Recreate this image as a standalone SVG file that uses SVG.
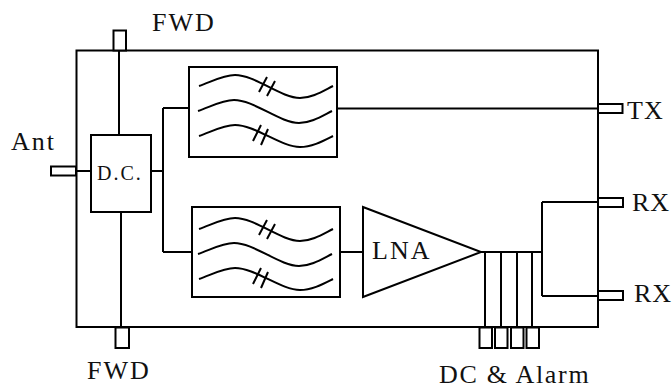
<svg xmlns="http://www.w3.org/2000/svg" width="672" height="385" viewBox="0 0 672 385">
<style>
.s{fill:none;stroke:#000;stroke-width:2}
.b{fill:#fff;stroke:#000;stroke-width:2}
.t{font-family:"Liberation Serif","Times New Roman",serif;font-size:26px;fill:#111;letter-spacing:2px}
</style>
<defs>
<g id="waves" class="s" stroke-width="2">
<path d="M10 19C22 15 34 8 46 8C66 8 92 31 111 31C123 31 134 24 144 19"/>
<path d="M9 44C21 40 33 33 45 33C65 33 91 56 110 56C122 56 133 49 143 44"/>
<path d="M10 69C22 65 34 58 46 58C66 58 92 80 111 80C123 80 134 74 144 69"/>
<path d="M78 10L70 25M86 14L78 29M72 58L64 74M79 62L72 78"/>
</g>
</defs>
<g id="connectors" class="s">
<path d="M119 50V135M121 212V327M76 171H91M151 171H163M163 108V252M163 108H189M163 252H192M337 108.500H598M340 252H363M481 252H542M542 202V296M542 202H598M542 296H598M485 252V327M501 252V327M517 252V327M532 252V327"/>
</g>
<g id="enclosure"><rect class="s" x="76.500" y="50.500" width="521.500" height="276.500"/></g>
<g id="port-fwd-top"><rect class="b" x="113.500" y="30.500" width="12.500" height="20"/><text class="t" x="152" y="31">FWD</text></g>
<g id="port-fwd-bottom"><rect class="b" x="115.500" y="327.500" width="13.500" height="20.500"/><text class="t" x="87" y="379">FWD</text></g>
<g id="port-ant"><rect class="b" x="51" y="166.500" width="25" height="9"/><text class="t" x="11" y="150">Ant</text></g>
<g id="dc"><rect class="b" x="91" y="135" width="60" height="77"/><text class="t" x="97" y="180" style="font-size:20px">D.C.</text></g>
<g id="filter-1"><rect class="b" x="189" y="67" width="148" height="90"/><use href="#waves" x="189" y="67"/></g>
<g id="filter-2"><rect class="b" x="192" y="207" width="148" height="90"/><use href="#waves" x="189" y="210"/></g>
<g id="lna"><path class="b" d="M363 207L481 252L363 297Z"/><text class="t" x="372" y="259">LNA</text></g>
<g id="port-tx"><rect class="b" x="598" y="104" width="24.500" height="9"/><text class="t" x="627" y="119" style="letter-spacing:1px">TX</text></g>
<g id="port-rx-1"><rect class="b" x="598" y="198" width="25" height="9"/><text class="t" x="632" y="211" style="letter-spacing:1px">RX</text></g>
<g id="port-rx-2"><rect class="b" x="598" y="291" width="25" height="9"/><text class="t" x="634" y="302" style="letter-spacing:1px">RX</text></g>
<g id="port-dc-alarm"><rect class="b" x="479.500" y="327.500" width="12.500" height="20.500"/><rect class="b" x="495" y="327.500" width="12.500" height="20.500"/><rect class="b" x="511" y="327.500" width="12.500" height="20.500"/><rect class="b" x="526.500" y="327.500" width="12.500" height="20.500"/><text class="t" x="439" y="383" style="letter-spacing:1.700px">DC &amp; Alarm</text></g>
</svg>
